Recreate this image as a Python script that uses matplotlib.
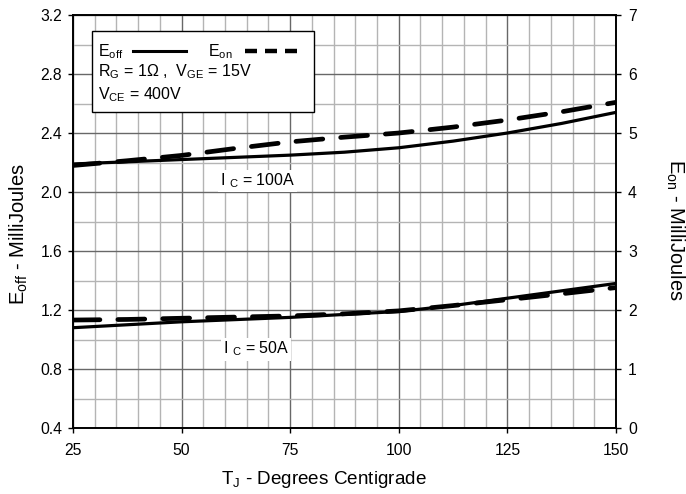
import matplotlib
matplotlib.use('Agg')
import matplotlib.pyplot as plt
from matplotlib.lines import Line2D
from matplotlib.patches import Rectangle
from matplotlib.ticker import MultipleLocator, FormatStrFormatter

plt.rcParams['font.family'] = ['Liberation Sans', 'DejaVu Sans']
plt.rcParams['mathtext.fontset'] = 'custom'
plt.rcParams['mathtext.rm'] = 'Liberation Sans'
plt.rcParams['mathtext.it'] = 'Liberation Sans:italic'

# 数据
temps = [25, 37.5, 50, 62.5, 75, 87.5, 100, 112.5, 125, 137.5, 150]
eoff_100a = [2.19, 2.205, 2.22, 2.235, 2.25, 2.27, 2.30, 2.345, 2.40, 2.465, 2.54]
eoff_50a = [1.08, 1.10, 1.12, 1.135, 1.15, 1.17, 1.19, 1.23, 1.28, 1.33, 1.38]
eon_100a = [4.45, 4.53, 4.62, 4.74, 4.85, 4.93, 5.00, 5.10, 5.22, 5.36, 5.52]
eon_50a = [1.83, 1.84, 1.86, 1.88, 1.90, 1.935, 1.985, 2.075, 2.175, 2.275, 2.38]

fs_tick = 11.3
fs_text = 11.5
fs_label = 13.6
fs_ylabel = 14.5

fig = plt.figure(figsize=(6.86, 4.94), dpi=100)
ax = fig.add_axes([0.1064, 0.1336, 0.7915, 0.836])
ax2 = ax.twinx()

ax.set_xlim(25, 150)
ax.set_ylim(0.4, 3.2)
ax2.set_ylim(0, 7)

ax.xaxis.set_major_locator(MultipleLocator(25))
ax.xaxis.set_minor_locator(MultipleLocator(5))
ax.yaxis.set_major_locator(MultipleLocator(0.4))
ax.yaxis.set_minor_locator(MultipleLocator(0.2))
ax2.yaxis.set_major_locator(MultipleLocator(1))
ax.yaxis.set_major_formatter(FormatStrFormatter('%.1f'))

# 网格
ax.grid(which='minor', color='#b4b4b4', linewidth=1.0)
ax.grid(which='major', color='#686868', linewidth=1.0)
ax.set_axisbelow(True)
ax.tick_params(which='minor', length=0)
ax.tick_params(axis='x', which='major', direction='out', length=3.6, width=1, labelsize=fs_tick, pad=7)
ax.tick_params(axis='y', which='major', direction='out', length=3.6, width=1, labelsize=fs_tick, pad=4.3)
ax2.tick_params(which='major', direction='out', length=3.6, width=1, labelsize=fs_tick, pad=5)
for a in (ax, ax2):
    for s in a.spines.values():
        s.set_linewidth(1.2)

# 曲线
ax.plot(temps, eoff_100a, color='black', linewidth=2.3, solid_capstyle='butt')
ax.plot(temps, eoff_50a, color='black', linewidth=2.3, solid_capstyle='butt')
ax2.plot(temps, eon_100a, color='black', linewidth=3.4, dashes=(5.7, 3.8), dash_capstyle='round')
ax2.plot(temps, eon_50a, color='black', linewidth=3.4, dashes=(5.7, 3.8), dash_capstyle='round')

# 标注
ax.text(58.8, 2.075, 'I $_{\\rm C}$ = 100A', fontsize=fs_text, ha='left', va='center',
        bbox=dict(facecolor='white', edgecolor='none', pad=1.5))
ax.text(59.5, 0.935, 'I $_{\\rm C}$ = 50A', fontsize=fs_text, ha='left', va='center',
        bbox=dict(facecolor='white', edgecolor='none', pad=1.5))

# 图例框
ax.add_patch(Rectangle((0.035, 0.765), 0.409, 0.196, transform=ax.transAxes,
                       facecolor='white', edgecolor='black', linewidth=1.0, zorder=5))
ax.text(0.046, 0.912, 'E$_{\\rm off}$', transform=ax.transAxes, fontsize=fs_text, va='center', zorder=6)
ax.add_line(Line2D([0.110, 0.208], [0.914, 0.914], transform=ax.transAxes,
                   color='black', linewidth=2.2, zorder=6))
ax.text(0.249, 0.912, 'E$_{\\rm on}$', transform=ax.transAxes, fontsize=fs_text, va='center', zorder=6)
ax.add_line(Line2D([0.317, 0.418], [0.914, 0.914], transform=ax.transAxes,
                   color='black', linewidth=3.2, dashes=(2.7, 1.8), zorder=6))
ax.text(0.046, 0.862, 'R$_{\\rm G}$ = 1\u03a9 ,  V$_{\\rm GE}$ = 15V', transform=ax.transAxes,
        fontsize=fs_text, va='center', zorder=6)
ax.text(0.046, 0.806, 'V$_{\\rm CE}$ = 400V', transform=ax.transAxes,
        fontsize=fs_text, va='center', zorder=6)

# 轴标签
fig.text(0.4716, 0.030, 'T$_{\\rm J}$ - Degrees Centigrade', fontsize=fs_label, ha='center', va='center')
fig.text(0.027, 0.526, 'E$_{\\rm off}$ - MilliJoules', fontsize=fs_ylabel, ha='center', va='center', rotation=90)
fig.text(0.984, 0.535, 'E$_{\\rm on}$ - MilliJoules', fontsize=fs_ylabel, ha='center', va='center', rotation=-90)

fig.savefig('out.png', dpi=100)
